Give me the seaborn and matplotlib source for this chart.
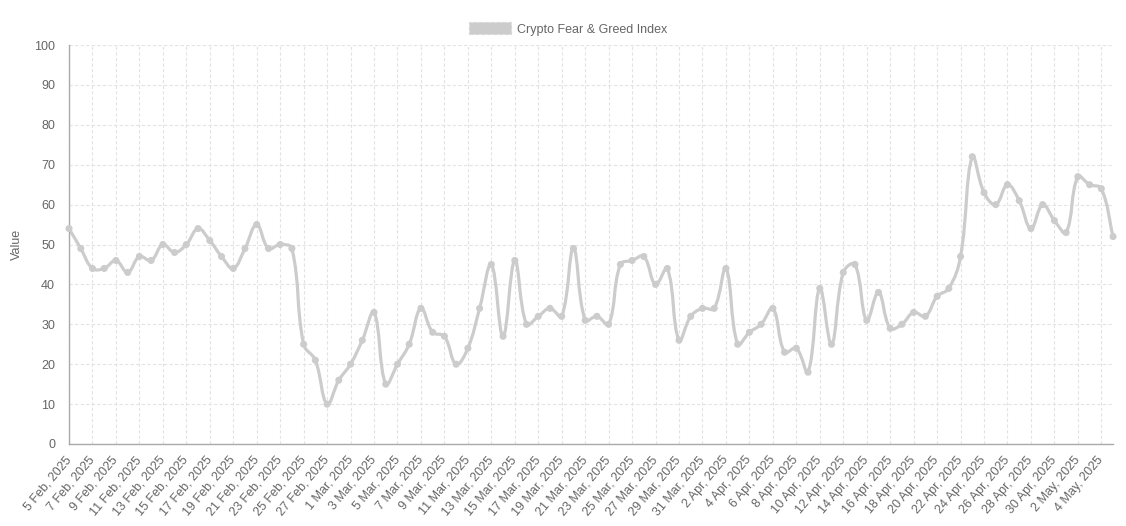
import numpy as np
import pandas as pd
import matplotlib
matplotlib.use("Agg")
import matplotlib.pyplot as plt
import seaborn as sns
from matplotlib.path import Path
from matplotlib.patches import PathPatch, Patch

# daily index values, 5 Feb 2025 .. 5 May 2025
dates = pd.date_range("2025-02-05", "2025-05-05", freq="D")
values = [54, 49, 44, 44, 46, 43, 47, 46, 50, 48,
          50, 54, 51, 47, 44, 49, 55, 49, 50, 49,
          25, 21, 10, 16, 20, 26, 33, 15, 20, 25,
          34, 28, 27, 20, 24, 34, 45, 27, 46, 30,
          32, 34, 32, 49, 31, 32, 30, 45, 46, 47,
          40, 44, 26, 32, 34, 34, 44, 25, 28, 30,
          34, 23, 24, 18, 39, 25, 43, 45, 31, 38,
          29, 30, 33, 32, 37, 39, 47, 72, 63, 60,
          65, 61, 54, 60, 56, 53, 67, 65, 64, 52]
series_name = "Crypto Fear & Greed Index"
tick_labels = [f"{d.day} {d.strftime('%b')}, {d.year}" for d in dates]

df = pd.DataFrame({"idx": np.arange(len(dates)), "value": values})

line_color = "#cccccc"
text_color = "#666666"

sns.set_theme(style="white")
plt.rcParams["font.family"] = ["Liberation Sans", "DejaVu Sans"]

fig = plt.figure(figsize=(11.26, 5.26), dpi=100)
ax = fig.add_axes([0.0613, 0.1559, 0.9272, 0.7585])
ax.set_xlim(0, len(dates) - 1)
ax.set_ylim(0, 100)


# chart.js style bezier (tension 0.4) through the points, built in pixel space
def spline_path(ax, x, y, t=0.4):
    pts = ax.transData.transform(np.column_stack([x, y]))
    n = len(pts)
    verts = [pts[0]]
    codes = [Path.MOVETO]
    cp_prev, cp_next = [], []
    for i in range(n):
        p0 = pts[max(i - 1, 0)]
        p1 = pts[i]
        p2 = pts[min(i + 1, n - 1)]
        d01 = np.hypot(*(p1 - p0))
        d12 = np.hypot(*(p2 - p1))
        tot = d01 + d12
        s01 = d01 / tot if tot else 0
        s12 = d12 / tot if tot else 0
        cp_prev.append(p1 - t * s01 * (p2 - p0))
        cp_next.append(p1 + t * s12 * (p2 - p0))
    for i in range(1, n):
        verts += [cp_next[i - 1], cp_prev[i], pts[i]]
        codes += [Path.CURVE4] * 3
    verts = ax.transData.inverted().transform(np.array(verts))
    return Path(verts, codes)


curve = spline_path(ax, df["idx"].values, df["value"].values)
ax.add_patch(PathPatch(curve, fill=False, edgecolor=line_color, lw=2.3,
                       capstyle="round", joinstyle="round", zorder=2,
                       clip_on=False))
sns.scatterplot(data=df, x="idx", y="value", ax=ax, color=line_color,
                s=26, edgecolor="none", zorder=3, legend=False, clip_on=False)

ax.set_xticks(df["idx"].values[::2])
ax.set_xticklabels(tick_labels[::2])
ax.set_yticks(range(0, 101, 10))
ax.grid(True, color="#e3e3e3", linestyle=(0, (3, 2)), lw=0.8)
ax.set_axisbelow(True)
ax.tick_params(axis="both", length=8, width=0.8, color="#e0e0e0",
               labelcolor=text_color, labelsize=9, pad=2)
for lab in ax.get_xticklabels():
    lab.set_rotation(50)
    lab.set_ha("right")
    lab.set_va("center")
    lab.set_rotation_mode("anchor")
for side in ["top", "right"]:
    ax.spines[side].set_visible(False)
for side in ["left", "bottom"]:
    ax.spines[side].set_color("#aaaaaa")
    ax.spines[side].set_linewidth(1)

ax.set_xlabel("")
ax.set_ylabel("Value", fontsize=9, color=text_color, labelpad=8)

handle = Patch(facecolor=line_color, edgecolor="#d8d8d8", linestyle="--", lw=0.8)
fig.legend([handle], [series_name], loc="center", bbox_to_anchor=(0.5045, 0.945),
           frameon=False, fontsize=9, labelcolor=text_color,
           handlelength=3.4, handleheight=1.1, handletextpad=0.5)

fig.savefig("out.png", dpi=100)
